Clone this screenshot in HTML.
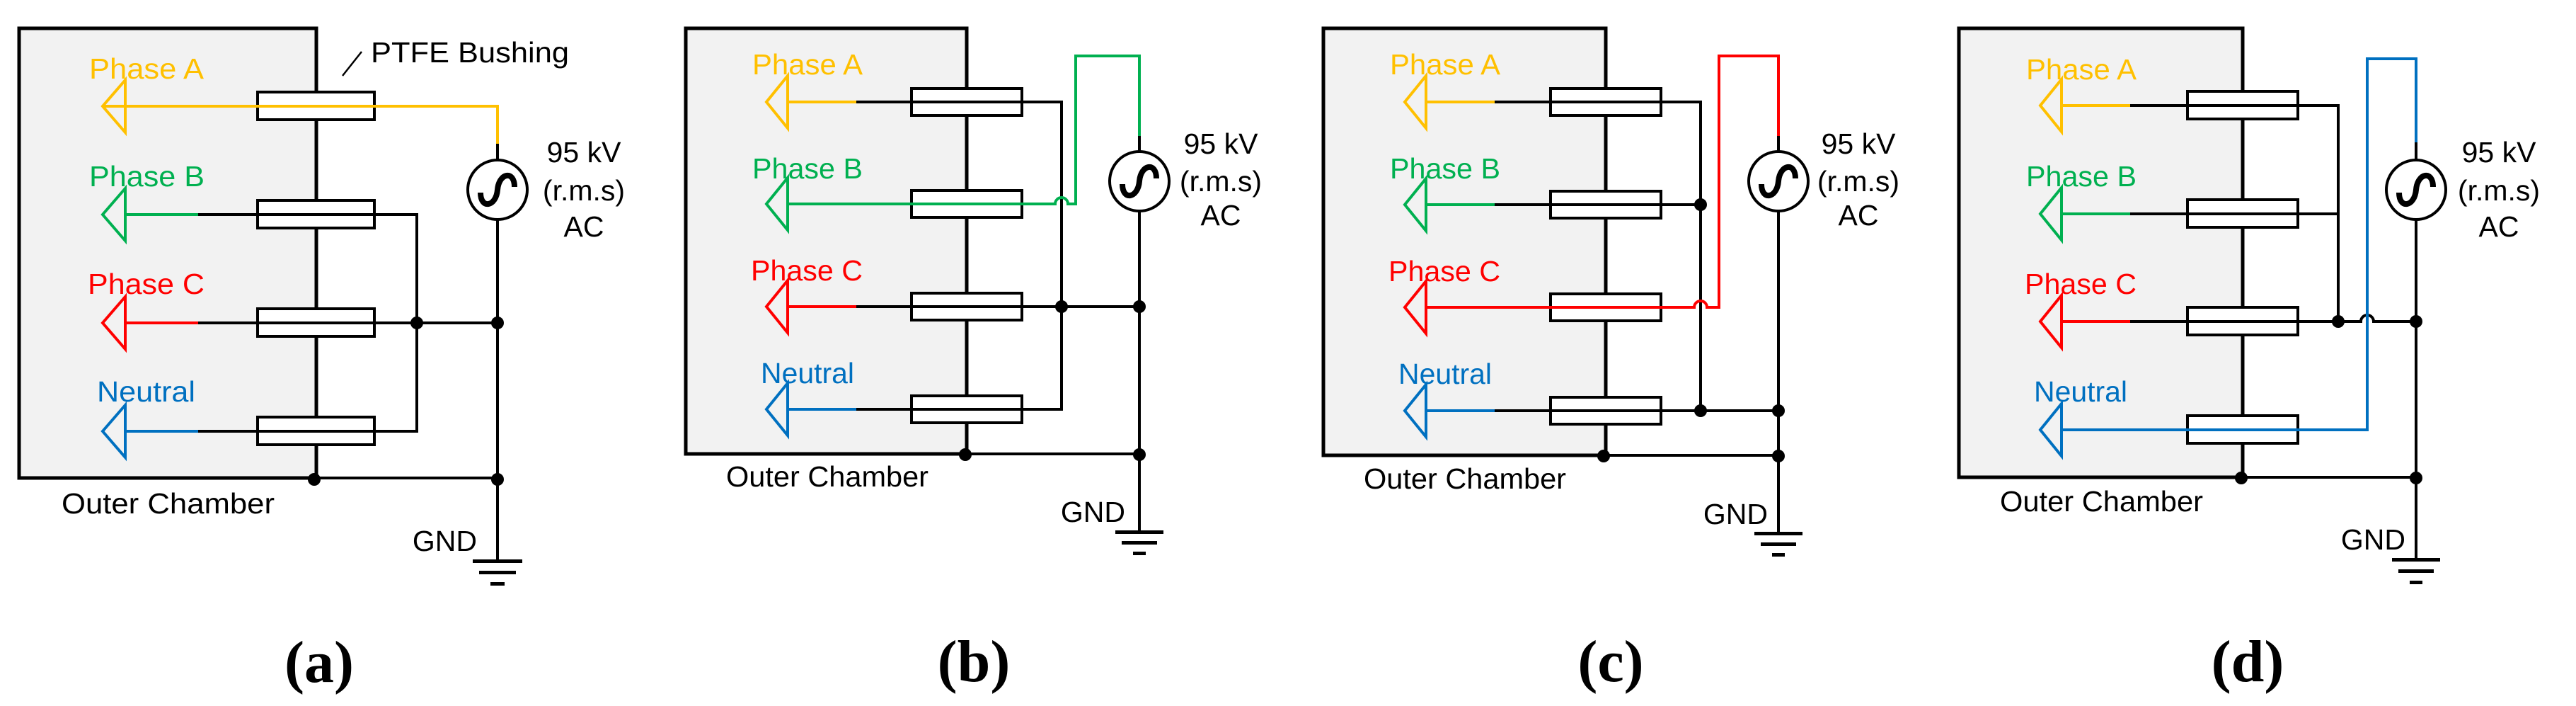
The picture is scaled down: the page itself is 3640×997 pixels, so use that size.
<!DOCTYPE html>
<html><head><meta charset="utf-8"><style>
html,body{margin:0;padding:0;background:#fff;}
svg{display:block;}
text{font-family:"Liberation Sans",Arial,sans-serif;}
.cap{font-family:"Liberation Serif","Times New Roman",serif;font-weight:bold;}
</style></head><body>
<svg width="3640" height="997" viewBox="0 0 3640 997" xmlns="http://www.w3.org/2000/svg">
<g fill="none" stroke-linejoin="miter">

<!-- ===== Panel (a) ===== -->
<rect x="27" y="40" width="420" height="635" fill="#f2f2f2" stroke="#000" stroke-width="5"/>
<g stroke="#000" stroke-width="4" fill="#fff">
<rect x="364" y="130" width="165" height="39"/>
<rect x="364" y="283" width="165" height="39"/>
<rect x="364" y="436" width="165" height="39"/>
<rect x="364" y="589" width="165" height="39"/>
</g>
<g stroke-width="4">
<polyline points="145,150 177,150" stroke="#ffc000"/>
<path d="M177,113 L145,150 L177,187 Z" stroke="#ffc000"/>
<polyline points="177,150 703,150 703,203" stroke="#ffc000"/>
<line x1="703" y1="203" x2="703" y2="226" stroke="#000"/>
<path d="M177,266 L145,303 L177,340 Z" stroke="#00b050"/>
<line x1="177" y1="303" x2="280" y2="303" stroke="#00b050"/>
<polyline points="280,303 589,303 589,609 280,609" stroke="#000"/>
<path d="M177,419 L145,456 L177,493 Z" stroke="#ff0000"/>
<line x1="177" y1="456" x2="280" y2="456" stroke="#ff0000"/>
<line x1="280" y1="456" x2="703" y2="456" stroke="#000"/>
<path d="M177,572 L145,609 L177,646 Z" stroke="#0070c0"/>
<line x1="177" y1="609" x2="280" y2="609" stroke="#0070c0"/>
<line x1="703" y1="311" x2="703" y2="792" stroke="#000"/>
<line x1="445" y1="675" x2="703" y2="675" stroke="#000"/>
<circle cx="703" cy="268" r="42" stroke="#000" stroke-width="4"/>
<path d="M679,272 C679,296 701,292 703,268 S727,240 727,264" stroke="#000" stroke-width="8"/>
<line x1="484" y1="107" x2="511" y2="73" stroke="#000" stroke-width="2.5"/>
</g>
<g fill="#000">
<circle cx="589" cy="456" r="9"/><circle cx="703" cy="456" r="9"/>
<circle cx="444" cy="677" r="9"/><circle cx="703" cy="677" r="9"/>
<rect x="668" y="790" width="70" height="5"/><rect x="677" y="806" width="52" height="5"/><rect x="693" y="822" width="20" height="5"/>
</g>
<g font-size="41">
<text x="126" y="111" fill="#ffc000" textLength="162" lengthAdjust="spacingAndGlyphs">Phase A</text>
<text x="126" y="263" fill="#00b050" textLength="163" lengthAdjust="spacingAndGlyphs">Phase B</text>
<text x="124" y="415" fill="#ff0000" textLength="165" lengthAdjust="spacingAndGlyphs">Phase C</text>
<text x="137" y="567" fill="#0070c0" textLength="139" lengthAdjust="spacingAndGlyphs">Neutral</text>
<text x="524" y="88" fill="#000" textLength="280" lengthAdjust="spacingAndGlyphs">PTFE Bushing</text>
<text x="825" y="229" fill="#000" text-anchor="middle">95 kV</text>
<text x="825" y="283" fill="#000" text-anchor="middle">(r.m.s)</text>
<text x="825" y="334" fill="#000" text-anchor="middle">AC</text>
<text x="87" y="725" fill="#000" textLength="301" lengthAdjust="spacingAndGlyphs">Outer Chamber</text>
<text x="674" y="778" fill="#000" text-anchor="end">GND</text>
</g>
<text class="cap" x="451" y="963" font-size="84" fill="#000" text-anchor="middle">(a)</text>

<!-- ===== Panel (b) ===== -->
<rect x="969" y="40" width="397" height="601" fill="#f2f2f2" stroke="#000" stroke-width="5"/>
<g stroke="#000" stroke-width="4" fill="#fff">
<rect x="1288" y="125" width="156" height="38"/>
<rect x="1288" y="269" width="156" height="38"/>
<rect x="1288" y="414" width="156" height="38"/>
<rect x="1288" y="559" width="156" height="38"/>
</g>
<g stroke-width="4">
<path d="M1113,107 L1083,144 L1113,181 Z" stroke="#ffc000"/>
<line x1="1113" y1="144" x2="1210" y2="144" stroke="#ffc000"/>
<polyline points="1210,144 1500,144 1500,578 1210,578" stroke="#000"/>
<path d="M1113,251 L1083,288 L1113,325 Z" stroke="#00b050"/>
<path d="M1113,288 L1491,288 A9,9 0 0 1 1509,288 L1520,288 L1520,79 L1610,79 L1610,192" stroke="#00b050"/>
<line x1="1610" y1="192" x2="1610" y2="214" stroke="#000"/>
<path d="M1113,396 L1083,433 L1113,470 Z" stroke="#ff0000"/>
<line x1="1113" y1="433" x2="1210" y2="433" stroke="#ff0000"/>
<line x1="1210" y1="433" x2="1610" y2="433" stroke="#000"/>
<path d="M1113,541 L1083,578 L1113,615 Z" stroke="#0070c0"/>
<line x1="1113" y1="578" x2="1210" y2="578" stroke="#0070c0"/>
<line x1="1610" y1="298" x2="1610" y2="751" stroke="#000"/>
<line x1="1366" y1="641" x2="1610" y2="641" stroke="#000"/>
<circle cx="1610" cy="256" r="42" stroke="#000" stroke-width="4"/>
<path d="M1586,260 C1586,284 1608,280 1610,256 S1634,228 1634,252" stroke="#000" stroke-width="8"/>
</g>
<g fill="#000">
<circle cx="1500" cy="433" r="9"/><circle cx="1610" cy="433" r="9"/>
<circle cx="1364" cy="642" r="9"/><circle cx="1610" cy="642" r="9"/>
<rect x="1576" y="749" width="68" height="5"/><rect x="1585" y="764" width="50" height="5"/><rect x="1601" y="779" width="18" height="5"/>
</g>
<g font-size="41">
<text x="1063" y="105" fill="#ffc000" textLength="156" lengthAdjust="spacingAndGlyphs">Phase A</text>
<text x="1063" y="252" fill="#00b050" textLength="156" lengthAdjust="spacingAndGlyphs">Phase B</text>
<text x="1061" y="396" fill="#ff0000" textLength="158" lengthAdjust="spacingAndGlyphs">Phase C</text>
<text x="1075" y="541" fill="#0070c0" textLength="132" lengthAdjust="spacingAndGlyphs">Neutral</text>
<text x="1725" y="217" fill="#000" text-anchor="middle">95 kV</text>
<text x="1725" y="270" fill="#000" text-anchor="middle">(r.m.s)</text>
<text x="1725" y="318" fill="#000" text-anchor="middle">AC</text>
<text x="1026" y="687" fill="#000" textLength="286" lengthAdjust="spacingAndGlyphs">Outer Chamber</text>
<text x="1590" y="737" fill="#000" text-anchor="end">GND</text>
</g>
<text class="cap" x="1376" y="962" font-size="84" fill="#000" text-anchor="middle">(b)</text>

<!-- ===== Panel (c) ===== -->
<rect x="1870" y="40" width="399" height="603" fill="#f2f2f2" stroke="#000" stroke-width="5"/>
<g stroke="#000" stroke-width="4" fill="#fff">
<rect x="2191" y="125" width="156" height="38"/>
<rect x="2191" y="270" width="156" height="38"/>
<rect x="2191" y="415" width="156" height="38"/>
<rect x="2191" y="561" width="156" height="38"/>
</g>
<g stroke-width="4">
<path d="M2015,107 L1985,144 L2015,181 Z" stroke="#ffc000"/>
<line x1="2015" y1="144" x2="2112" y2="144" stroke="#ffc000"/>
<polyline points="2112,144 2403,144 2403,580" stroke="#000"/>
<path d="M2015,252 L1985,289 L2015,326 Z" stroke="#00b050"/>
<line x1="2015" y1="289" x2="2112" y2="289" stroke="#00b050"/>
<line x1="2112" y1="289" x2="2403" y2="289" stroke="#000"/>
<path d="M2015,397 L1985,434 L2015,471 Z" stroke="#ff0000"/>
<path d="M2015,434 L2394,434 A9,9 0 0 1 2412,434 L2429,434 L2429,79 L2513,79 L2513,192" stroke="#ff0000"/>
<line x1="2513" y1="192" x2="2513" y2="214" stroke="#000"/>
<path d="M2015,543 L1985,580 L2015,617 Z" stroke="#0070c0"/>
<line x1="2015" y1="580" x2="2112" y2="580" stroke="#0070c0"/>
<line x1="2112" y1="580" x2="2513" y2="580" stroke="#000"/>
<line x1="2513" y1="298" x2="2513" y2="753" stroke="#000"/>
<line x1="2269" y1="643" x2="2513" y2="643" stroke="#000"/>
<circle cx="2513" cy="256" r="42" stroke="#000" stroke-width="4"/>
<path d="M2489,260 C2489,284 2511,280 2513,256 S2537,228 2537,252" stroke="#000" stroke-width="8"/>
</g>
<g fill="#000">
<circle cx="2403" cy="289" r="9"/><circle cx="2403" cy="580" r="9"/><circle cx="2513" cy="580" r="9"/>
<circle cx="2266" cy="644" r="9"/><circle cx="2513" cy="644" r="9"/>
<rect x="2479" y="751" width="68" height="5"/><rect x="2488" y="766" width="50" height="5"/><rect x="2504" y="781" width="18" height="5"/>
</g>
<g font-size="41">
<text x="1964" y="105" fill="#ffc000" textLength="156" lengthAdjust="spacingAndGlyphs">Phase A</text>
<text x="1964" y="252" fill="#00b050" textLength="156" lengthAdjust="spacingAndGlyphs">Phase B</text>
<text x="1962" y="397" fill="#ff0000" textLength="158" lengthAdjust="spacingAndGlyphs">Phase C</text>
<text x="1976" y="542" fill="#0070c0" textLength="132" lengthAdjust="spacingAndGlyphs">Neutral</text>
<text x="2626" y="217" fill="#000" text-anchor="middle">95 kV</text>
<text x="2626" y="270" fill="#000" text-anchor="middle">(r.m.s)</text>
<text x="2626" y="318" fill="#000" text-anchor="middle">AC</text>
<text x="1927" y="690" fill="#000" textLength="286" lengthAdjust="spacingAndGlyphs">Outer Chamber</text>
<text x="2498" y="740" fill="#000" text-anchor="end">GND</text>
</g>
<text class="cap" x="2276" y="962" font-size="84" fill="#000" text-anchor="middle">(c)</text>

<!-- ===== Panel (d) ===== -->
<rect x="2768" y="40" width="401" height="634" fill="#f2f2f2" stroke="#000" stroke-width="5"/>
<g stroke="#000" stroke-width="4" fill="#fff">
<rect x="3091" y="129" width="156" height="39"/>
<rect x="3091" y="282" width="156" height="39"/>
<rect x="3091" y="434" width="156" height="39"/>
<rect x="3091" y="587" width="156" height="39"/>
</g>
<g stroke-width="4">
<path d="M2913,112 L2883,149 L2913,186 Z" stroke="#ffc000"/>
<line x1="2913" y1="149" x2="3010" y2="149" stroke="#ffc000"/>
<polyline points="3010,149 3304,149 3304,454" stroke="#000"/>
<path d="M2913,265 L2883,302 L2913,339 Z" stroke="#00b050"/>
<line x1="2913" y1="302" x2="3010" y2="302" stroke="#00b050"/>
<line x1="3010" y1="302" x2="3304" y2="302" stroke="#000"/>
<path d="M2913,417 L2883,454 L2913,491 Z" stroke="#ff0000"/>
<line x1="2913" y1="454" x2="3010" y2="454" stroke="#ff0000"/>
<path d="M3010,454 L3336,454 A9,9 0 0 1 3354,454 L3414,454" stroke="#000"/>
<path d="M2913,570 L2883,607 L2913,644 Z" stroke="#0070c0"/>
<path d="M2913,607 L3345,607 L3345,83 L3414,83 L3414,201" stroke="#0070c0"/>
<line x1="3414" y1="201" x2="3414" y2="226" stroke="#000"/>
<line x1="3414" y1="310" x2="3414" y2="790" stroke="#000"/>
<line x1="3169" y1="674" x2="3414" y2="674" stroke="#000"/>
<circle cx="3414" cy="268" r="42" stroke="#000" stroke-width="4"/>
<path d="M3390,272 C3390,296 3412,292 3414,268 S3438,240 3438,264" stroke="#000" stroke-width="8"/>
</g>
<g fill="#000">
<circle cx="3304" cy="454" r="9"/><circle cx="3414" cy="454" r="9"/>
<circle cx="3167" cy="675" r="9"/><circle cx="3414" cy="675" r="9"/>
<rect x="3380" y="788" width="68" height="5"/><rect x="3389" y="804" width="50" height="5"/><rect x="3405" y="820" width="18" height="5"/>
</g>
<g font-size="41">
<text x="2863" y="112" fill="#ffc000" textLength="156" lengthAdjust="spacingAndGlyphs">Phase A</text>
<text x="2863" y="263" fill="#00b050" textLength="156" lengthAdjust="spacingAndGlyphs">Phase B</text>
<text x="2861" y="415" fill="#ff0000" textLength="158" lengthAdjust="spacingAndGlyphs">Phase C</text>
<text x="2874" y="567" fill="#0070c0" textLength="132" lengthAdjust="spacingAndGlyphs">Neutral</text>
<text x="3531" y="229" fill="#000" text-anchor="middle">95 kV</text>
<text x="3531" y="283" fill="#000" text-anchor="middle">(r.m.s)</text>
<text x="3531" y="334" fill="#000" text-anchor="middle">AC</text>
<text x="2826" y="722" fill="#000" textLength="287" lengthAdjust="spacingAndGlyphs">Outer Chamber</text>
<text x="3399" y="776" fill="#000" text-anchor="end">GND</text>
</g>
<text class="cap" x="3176" y="962" font-size="84" fill="#000" text-anchor="middle">(d)</text>

</g>
</svg>
</body></html>
